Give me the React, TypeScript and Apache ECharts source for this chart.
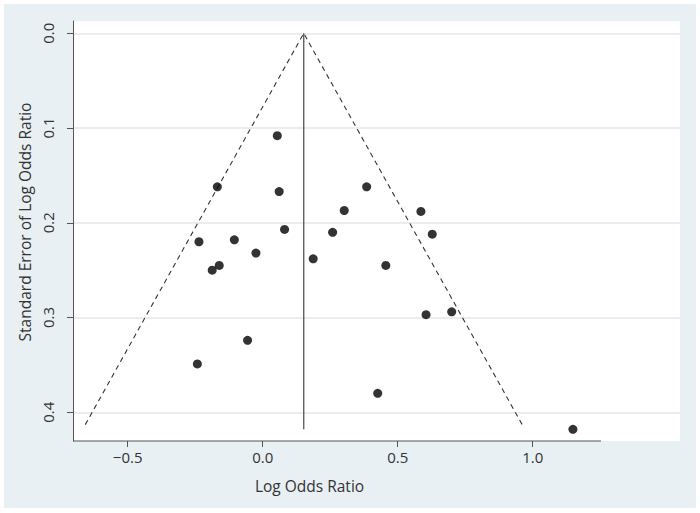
import React, { useEffect, useRef } from "react";
import * as echarts from "echarts";

// Study estimates (log odds ratio) and their standard errors
const logOddsRatio = [0.054, -0.168, 0.061, 0.081, -0.236, -0.105, -0.025, -0.187, -0.161, -0.056, -0.242, 0.385, 0.302, 0.586, 0.259, 0.628, 0.187, 0.456, 0.605, 0.7, 0.426, 1.149];
const seLogOddsRatio = [0.108, 0.162, 0.167, 0.207, 0.22, 0.218, 0.232, 0.25, 0.245, 0.324, 0.349, 0.162, 0.187, 0.188, 0.21, 0.212, 0.238, 0.245, 0.297, 0.294, 0.38, 0.418];

// Pooled estimate line and pseudo 95% confidence limits
const pooledLine = [0.152, 0.0, 0.418]; // x, se from, se to
const pseudoCILeft = [-0.657, 0.413];
const pseudoCIApex = [0.152, 0.0];
const pseudoCIRight = [0.961, 0.413];

// Axes
const xTicks = [-0.5, 0.0, 0.5, 1.0];
const yTicks = [0.0, 0.1, 0.2, 0.3, 0.4];
const xRange = [-0.7026, 1.5456];
const yRange = [-0.013, 0.4303];
const xAxisLineEnd = 1.253;

const FONT = "'Open Sans', 'Noto Sans', sans-serif";
const TEXT = "#333333";
const AXIS = "#555555";

export default function App() {
  const ref = useRef<HTMLDivElement>(null);

  useEffect(() => {
    if (!ref.current) return;
    const chart = echarts.init(ref.current, undefined, { renderer: "svg" });
    const points = logOddsRatio.map((x, i) => [x, seLogOddsRatio[i]]);
    const fmt = (v: number) => v.toFixed(1).replace("-", "\u2212");

    chart.setOption({
      animation: false,
      backgroundColor: "#ffffff",
      grid: {
        left: 73,
        top: 21,
        right: 20,
        bottom: 72,
        show: true,
        backgroundColor: "#ffffff",
        borderWidth: 0,
        outerBoundsMode: "none",
      },
      xAxis: {
        type: "value",
        min: xRange[0],
        max: xRange[1],
        axisLine: { show: false, onZero: false },
        axisTick: { show: true, customValues: xTicks, length: 6, lineStyle: { color: AXIS, width: 1 } },
        axisLabel: { customValues: xTicks, formatter: fmt, margin: 8.5, color: TEXT, fontSize: 15, fontFamily: FONT },
        splitLine: { show: false },
      },
      yAxis: {
        type: "value",
        inverse: true,
        min: yRange[0],
        max: yRange[1],
        axisLine: { show: true, onZero: false, lineStyle: { color: AXIS, width: 1 } },
        axisTick: { show: true, customValues: yTicks, length: 6, lineStyle: { color: AXIS, width: 1 } },
        axisLabel: { customValues: yTicks, formatter: fmt, rotate: 90, margin: 17.5, color: TEXT, fontSize: 15, fontFamily: FONT },
        splitLine: { show: true, lineStyle: { color: "#e6e6e6", width: 1.5 } },
      },
      graphic: [
        {
          type: "rect",
          z: -10,
          silent: true,
          shape: { x: 4, y: 4, width: 692, height: 504 },
          style: { fill: "#e9f0f3" },
        },
        {
          type: "text",
          x: 25,
          y: 222,
          rotation: Math.PI / 2,
          silent: true,
          style: {
            text: "Standard Error of Log Odds Ratio",
            fill: TEXT,
            fontSize: 15.5,
            fontFamily: FONT,
            align: "center",
            verticalAlign: "middle",
          },
        },
        {
          type: "text",
          x: 309.5,
          y: 486,
          silent: true,
          style: {
            text: "Log Odds Ratio",
            fill: TEXT,
            fontSize: 15.5,
            fontFamily: FONT,
            align: "center",
            verticalAlign: "middle",
          },
        },
      ],
      series: [
        {
          type: "line",
          data: [[xRange[0], yRange[1]], [xAxisLineEnd, yRange[1]]],
          symbol: "none",
          clip: false,
          silent: true,
          lineStyle: { color: AXIS, width: 1 },
          z: 3,
        },
        {
          type: "line",
          data: [pseudoCILeft, pseudoCIApex, pseudoCIRight],
          symbol: "none",
          silent: true,
          lineStyle: { color: "#333333", width: 1.1, type: [5, 4] },
          z: 3,
        },
        {
          type: "line",
          data: [[pooledLine[0], pooledLine[1]], [pooledLine[0], pooledLine[2]]],
          symbol: "none",
          silent: true,
          lineStyle: { color: AXIS, width: 1.3 },
          z: 3,
        },
        {
          type: "scatter",
          data: points,
          symbol: "circle",
          symbolSize: 9,
          silent: true,
          itemStyle: { color: "#000000" },
          z: 5,
        },
      ],
    });
    return () => chart.dispose();
  }, []);

  return (
    <div
      ref={ref}
      style={{ position: "absolute", left: 0, top: 0, width: 700, height: 513, background: "#ffffff" }}
    />
  );
}
